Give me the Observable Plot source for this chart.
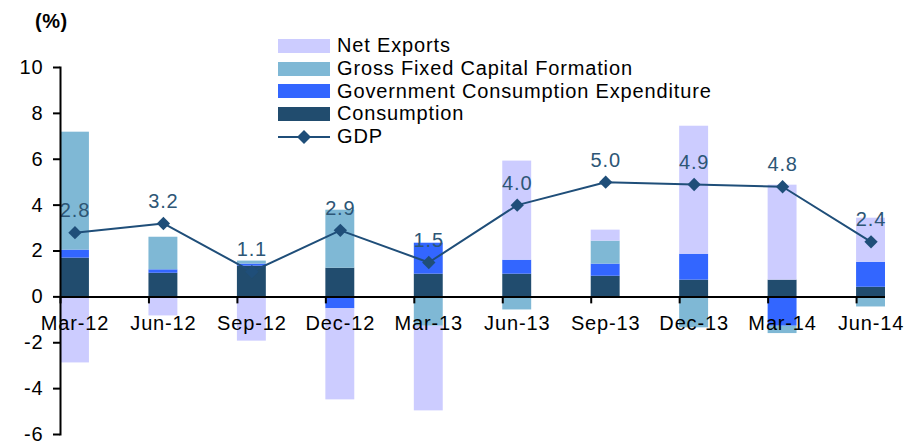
<!DOCTYPE html>
<html>
<head>
<meta charset="utf-8">
<script src="https://cdn.jsdelivr.net/npm/d3@7"></script>
<script src="https://cdn.jsdelivr.net/npm/@observablehq/plot@0.6"></script>
<style>
  body { margin: 0; background: #fff; font-family: "Liberation Sans", Arial, sans-serif; }
  #wrap { position: relative; width: 920px; height: 442px; overflow: hidden; }
  #pct { position: absolute; left: 35px; top: 11px; font-weight: bold; font-size: 20px; line-height: 20px; letter-spacing: 0.5px; color: #000; }
  .lrow { position: absolute; left: 278px; height: 22.7px; display: flex; align-items: center; font-size: 20px; letter-spacing: 0.85px; color: #000; white-space: nowrap; }
  .sw { width: 52px; height: 14px; margin-right: 7px; flex: none; }
</style>
</head>
<body>
<div id="wrap"><div id="pct">(%)</div></div>
<script>
const categories = ["Mar-12","Jun-12","Sep-12","Dec-12","Mar-13","Jun-13","Sep-13","Dec-13","Mar-14","Jun-14"];
const consumption = [1.69, 1.03, 1.34, 1.25, 0.99, 0.99, 0.90, 0.73, 0.73, 0.42];
const government  = [0.35, 0.15, 0.09, -0.52, 1.35, 0.61, 0.53, 1.13, -1.28, 1.09];
const gfcf        = [5.14, 1.42, 0.13, 2.53, -1.28, -0.57, 1.00, -1.35, -0.32, -0.44];
const netExports  = [-2.88, -0.83, -1.93, -3.97, -3.69, 4.32, 0.48, 5.58, 4.14, 1.92];
const gdp         = [2.8, 3.2, 1.1, 2.9, 1.5, 4.0, 5.0, 4.9, 4.8, 2.4];
const seriesNames = ["Consumption", "Government Consumption Expenditure", "Gross Fixed Capital Formation", "Net Exports"];
const seriesColors = ["#214C6E", "#3366FF", "#7FB8D5", "#CCCCFF"];
const legendNames = ["Net Exports", "Gross Fixed Capital Formation", "Government Consumption Expenditure", "Consumption", "GDP"];
const yTicks = [-6, -4, -2, 0, 2, 4, 6, 8, 10];

const seriesValues = [consumption, government, gfcf, netExports];
const rows = [];
seriesNames.forEach((s, si) => categories.forEach((c, i) => rows.push({cat: c, series: s, value: seriesValues[si][i]})));
const gdpRows = categories.map((c, i) => ({cat: c, gdp: gdp[i]}));

const W = 920, H = 442, mL = 60, mR = 35, mT = 67, mB = 8;
const padInner = 0.673;
const step = (W - mL - mR) / (categories.length - padInner);
const bw = step * (1 - padInner);
const lineColor = "#1F4E79";

const chart = Plot.plot({
  width: W, height: H,
  marginLeft: mL, marginRight: mR, marginTop: mT, marginBottom: mB,
  style: {fontFamily: "Liberation Sans, Arial, sans-serif", fontSize: "20px", color: "#000", letterSpacing: "0.85px", overflow: "visible", background: "transparent"},
  x: {type: "band", domain: categories, paddingInner: padInner, paddingOuter: 0, align: 0, round: false, axis: null},
  y: {domain: [-6, 10], axis: null},
  color: {domain: seriesNames, range: seriesColors},
  marks: [
    Plot.barY(rows, {x: "cat", y: "value", fill: "series"}),
    Plot.line(gdpRows, {x: "cat", y: "gdp", stroke: lineColor, strokeWidth: 2}),
    Plot.dot(gdpRows, {x: "cat", y: "gdp", symbol: "diamond2", r: 6, fill: lineColor, stroke: "none"}),
    Plot.text(gdpRows, {x: "cat", y: "gdp", text: d => d.gdp.toFixed(1), dy: -22, fill: "#2D5676", fontSize: 20}),
    Plot.frame({anchor: "left", stroke: "#000", strokeWidth: 2}),
    Plot.axisY(yTicks, {tickSize: 7, tickPadding: 10, tickFormat: d => String(d), fontSize: 20, strokeWidth: 2, stroke: "#000", fill: "#000", label: null}),
    Plot.ruleY([0], {stroke: "#000", strokeWidth: 2}),
    Plot.ruleX(categories, {x: d => d, y1: () => 0, y2: () => 0, insetBottom: -7, dx: -bw / 2, stroke: "#000", strokeWidth: 2}),
    Plot.text(categories, {x: d => d, y: () => 0, text: d => d, dy: 27, fill: "#000", fontSize: 20})
  ]
});
const wrap = document.getElementById("wrap");
chart.style.position = "absolute";
chart.style.left = "0px";
chart.style.top = "0px";
wrap.insertBefore(chart, wrap.firstChild);

legendNames.forEach((name, i) => {
  const row = document.createElement("div");
  row.className = "lrow";
  row.style.top = (34.5 + i * 22.7) + "px";
  if (name === "GDP") {
    const ns = "http://www.w3.org/2000/svg";
    const s = document.createElementNS(ns, "svg");
    s.setAttribute("width", 52); s.setAttribute("height", 16);
    s.style.marginRight = "7px"; s.style.flex = "none";
    const l = document.createElementNS(ns, "line");
    l.setAttribute("x1", 0); l.setAttribute("x2", 52); l.setAttribute("y1", 8); l.setAttribute("y2", 8);
    l.setAttribute("stroke", lineColor); l.setAttribute("stroke-width", 2);
    const p = document.createElementNS(ns, "path");
    p.setAttribute("d", "M26,1L33,8L26,15L19,8Z");
    p.setAttribute("fill", lineColor);
    s.appendChild(l); s.appendChild(p);
    row.appendChild(s);
  } else {
    const sw = document.createElement("div");
    sw.className = "sw";
    sw.style.background = seriesColors[seriesNames.indexOf(name)];
    row.appendChild(sw);
  }
  const t = document.createElement("span");
  t.textContent = name;
  row.appendChild(t);
  wrap.appendChild(row);
});
</script>
</body>
</html>
